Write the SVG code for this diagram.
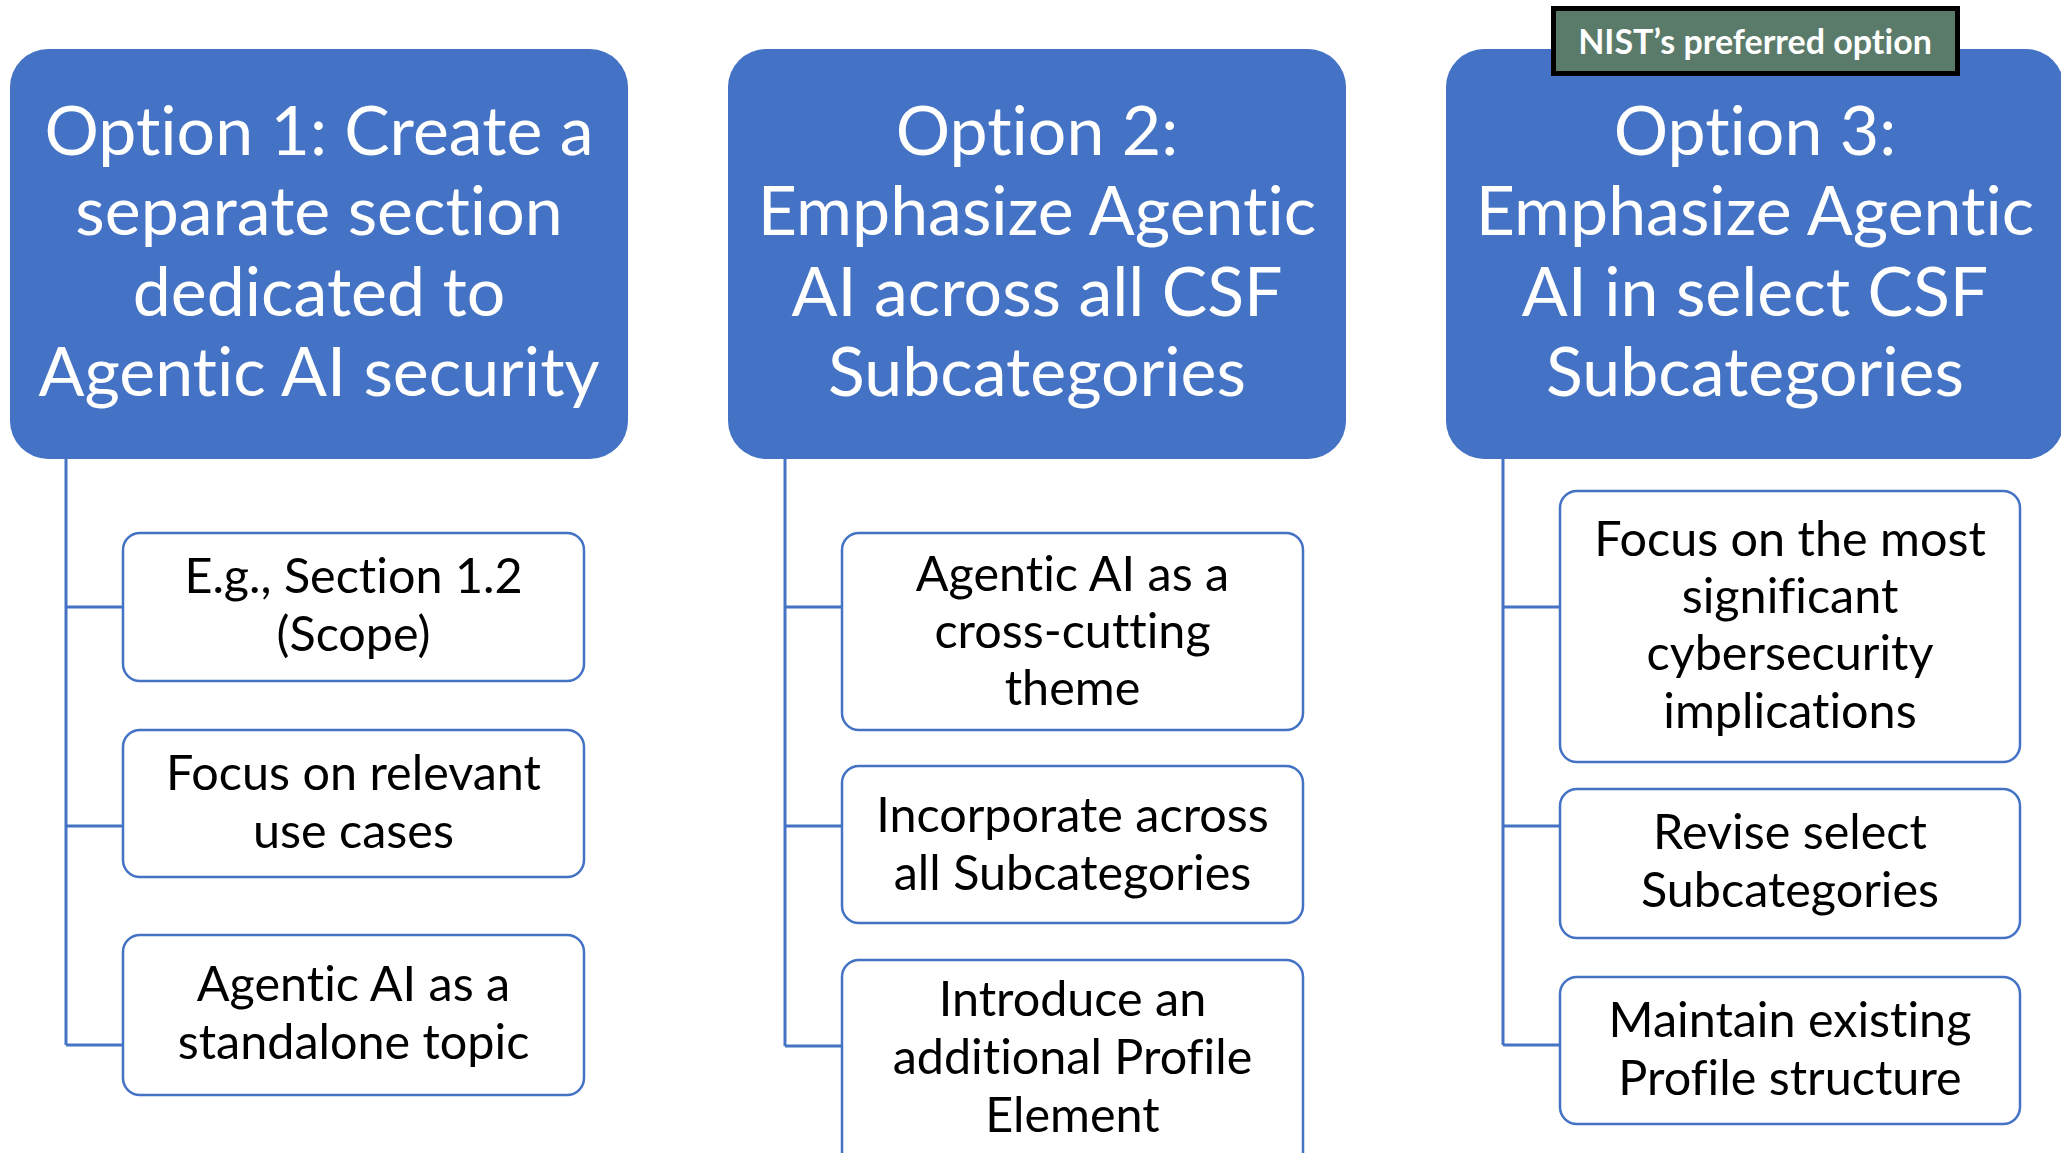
<svg xmlns="http://www.w3.org/2000/svg" width="2061" height="1153" viewBox="0 0 2061 1153">
<style>
text{font-variant-ligatures:none;font-feature-settings:"liga" 0,"clig" 0,"dlig" 0;}
.title{fill:#4472C4;}
.ttxt{font-family:Lato,"Open Sans",sans-serif;font-size:68px;fill:#ffffff;text-anchor:middle;}
.sub{fill:#ffffff;stroke:#4472C4;stroke-width:2.5;}
.stxt{font-family:Lato,"Open Sans",sans-serif;font-size:48.5px;fill:#000000;text-anchor:middle;}
.conn{fill:none;stroke:#4472C4;stroke-width:3;}
.badge{fill:#5A7A6A;stroke:#000000;stroke-width:5;}
.btxt{font-family:Lato,"Open Sans",sans-serif;font-size:34px;font-weight:bold;fill:#ffffff;text-anchor:middle;}
</style>
<rect width="2061" height="1153" fill="#ffffff"/>
<g id="connectors">
<path class="conn" d="M66,459 V1045 M66,607 H123 M66,826 H123 M66,1045 H123"/>
<path class="conn" d="M785,459 V1046 M785,607 H842 M785,826 H842 M785,1046 H842"/>
<path class="conn" d="M1503,459 V1045 M1503,607 H1560 M1503,826 H1560 M1503,1045 H1560"/>
</g>
<g id="option1">
<rect class="title" x="10" y="49" width="618" height="410" rx="38"/>
<text class="ttxt" x="319" y="155">Option 1: Create a</text>
<text class="ttxt" x="319" y="235">separate section</text>
<text class="ttxt" x="319" y="316">dedicated to</text>
<text class="ttxt" x="319" y="396">Agentic AI security</text>
</g>
<g id="option2">
<rect class="title" x="728" y="49" width="618" height="410" rx="38"/>
<text class="ttxt" x="1037" y="155">Option 2:</text>
<text class="ttxt" x="1037" y="235">Emphasize Agentic</text>
<text class="ttxt" x="1037" y="316">AI across all CSF</text>
<text class="ttxt" x="1037" y="396">Subcategories</text>
</g>
<g id="option3">
<rect class="title" x="1446" y="49" width="618" height="410" rx="38"/>
<text class="ttxt" x="1755" y="155">Option 3:</text>
<text class="ttxt" x="1755" y="235">Emphasize Agentic</text>
<text class="ttxt" x="1755" y="316">AI in select CSF</text>
<text class="ttxt" x="1755" y="396">Subcategories</text>
</g>
<g id="badge">
<rect class="badge" x="1553.5" y="8.5" width="404" height="65"/>
<text class="btxt" x="1755" y="54">NIST’s preferred option</text>
</g>
<g id="o1a">
<rect class="sub" x="123" y="533" width="461" height="148" rx="17"/>
<text class="stxt" x="353.5" y="593">E.g., Section 1.2</text>
<text class="stxt" x="353.5" y="651">(Scope)</text>
</g>
<g id="o1b">
<rect class="sub" x="123" y="730" width="461" height="147" rx="17"/>
<text class="stxt" x="353.5" y="790">Focus on relevant</text>
<text class="stxt" x="353.5" y="848">use cases</text>
</g>
<g id="o1c">
<rect class="sub" x="123" y="935" width="461" height="160" rx="17"/>
<text class="stxt" x="353.5" y="1001">Agentic AI as a</text>
<text class="stxt" x="353.5" y="1059">standalone topic</text>
</g>
<g id="o2a">
<rect class="sub" x="842" y="533" width="461" height="197" rx="17"/>
<text class="stxt" x="1072.5" y="591">Agentic AI as a</text>
<text class="stxt" x="1072.5" y="648">cross-cutting</text>
<text class="stxt" x="1072.5" y="705">theme</text>
</g>
<g id="o2b">
<rect class="sub" x="842" y="766" width="461" height="157" rx="17"/>
<text class="stxt" x="1072.5" y="832">Incorporate across</text>
<text class="stxt" x="1072.5" y="890">all Subcategories</text>
</g>
<g id="o2c">
<rect class="sub" x="842" y="960" width="461" height="210" rx="17"/>
<text class="stxt" x="1072.5" y="1016">Introduce an</text>
<text class="stxt" x="1072.5" y="1074">additional Profile</text>
<text class="stxt" x="1072.5" y="1132">Element</text>
</g>
<g id="o3a">
<rect class="sub" x="1560" y="491" width="460" height="271" rx="17"/>
<text class="stxt" x="1790" y="556">Focus on the most</text>
<text class="stxt" x="1790" y="613">significant</text>
<text class="stxt" x="1790" y="670">cybersecurity</text>
<text class="stxt" x="1790" y="728">implications</text>
</g>
<g id="o3b">
<rect class="sub" x="1560" y="789" width="460" height="149" rx="17"/>
<text class="stxt" x="1790" y="849">Revise select</text>
<text class="stxt" x="1790" y="907">Subcategories</text>
</g>
<g id="o3c">
<rect class="sub" x="1560" y="977" width="460" height="147" rx="17"/>
<text class="stxt" x="1790" y="1037">Maintain existing</text>
<text class="stxt" x="1790" y="1095">Profile structure</text>
</g>
</svg>
